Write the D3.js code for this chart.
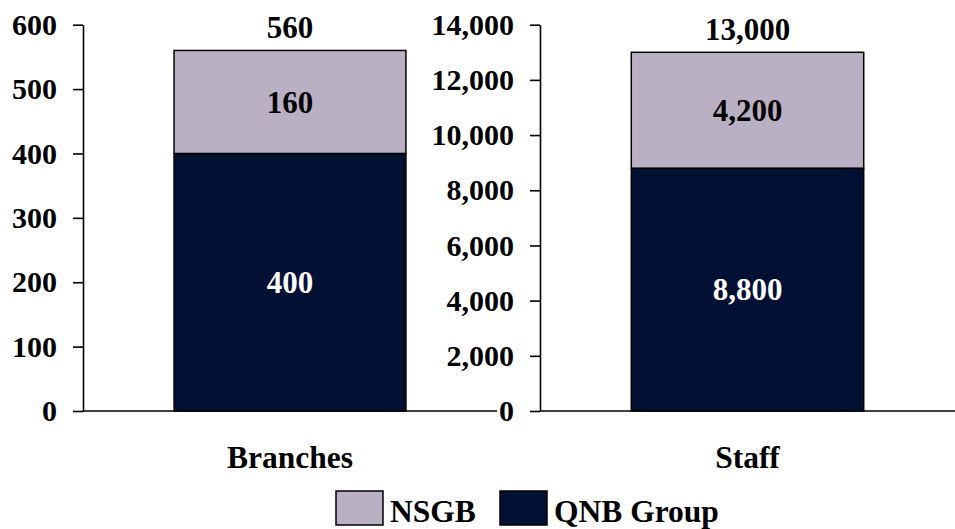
<!DOCTYPE html>
<html>
<head>
<meta charset="utf-8">
<script src="https://cdn.jsdelivr.net/npm/d3@7"></script>
<style>
  html, body { margin: 0; padding: 0; background: #fff; }
  svg { display: block; }
  text { font-family: "Liberation Serif", "Times New Roman", serif; font-weight: bold; }
</style>
</head>
<body>
<svg id="chart" width="955" height="529"></svg>
<script>
// ---- data ----
const categories = ["Branches", "Staff"];
const seriesNames = ["NSGB", "QNB Group"];
const qnbValues = [400, 8800];
const nsgbValues = [160, 4200];
const totals = [560, 13000];
const axisMax = [600, 14000];
const axisStep = [100, 2000];

const colors = { "NSGB": "#B9B0C3", "QNB Group": "#021034" };
const labelColors = { "NSGB": "#000", "QNB Group": "#fff" };

const svg = d3.select("#chart");
const fmt = d3.format(",");

const panels = [
  { x0: 83, x1: 497 },
  { x0: 540, x1: 955 }
];
const yTop = 24.7, yBottom = 411;

categories.forEach((cat, i) => {
  const p = panels[i];
  const y = d3.scaleLinear().domain([0, axisMax[i]]).range([yBottom, yTop]);
  const x = d3.scaleBand().domain([cat]).range([p.x0, p.x1]).padding(0.282);

  const ticks = d3.range(0, axisMax[i] + axisStep[i] / 2, axisStep[i]);
  const yAxis = d3.axisLeft(y).tickValues(ticks).tickFormat(fmt)
    .tickSizeInner(10).tickSizeOuter(0).tickPadding(16);
  const g = svg.append("g").attr("transform", `translate(${p.x0},0)`).call(yAxis);
  g.select(".domain").attr("stroke", "#000").attr("stroke-width", 1.6);
  g.selectAll(".tick line").attr("stroke", "#000").attr("stroke-width", 1.6);
  g.selectAll(".tick text").attr("fill", "#000")
    .style("font-size", "30px").style("font-family", "Liberation Serif").style("font-weight", "bold");

  // stacked segments
  const stack = [
    { name: "QNB Group", y0: 0, y1: qnbValues[i], v: qnbValues[i] },
    { name: "NSGB", y0: qnbValues[i], y1: qnbValues[i] + nsgbValues[i], v: nsgbValues[i] }
  ];
  svg.append("g").selectAll("rect").data(stack).join("rect")
    .attr("x", x(cat)).attr("width", x.bandwidth())
    .attr("y", d => y(d.y1)).attr("height", d => y(d.y0) - y(d.y1))
    .attr("fill", d => colors[d.name]).attr("stroke", "#000").attr("stroke-width", 1.5);

  svg.append("g").selectAll("text").data(stack).join("text")
    .attr("x", x(cat) + x.bandwidth() / 2)
    .attr("y", d => (y(d.y0) + y(d.y1)) / 2)
    .attr("dy", "0.35em")
    .attr("text-anchor", "middle")
    .attr("fill", d => labelColors[d.name])
    .style("font-size", "31px")
    .text(d => fmt(d.v));

  // total
  svg.append("text")
    .attr("x", x(cat) + x.bandwidth() / 2)
    .attr("y", y(totals[i]) - 12)
    .attr("text-anchor", "middle").attr("fill", "#000")
    .style("font-size", "31px")
    .text(fmt(totals[i]));

  // baseline
  svg.append("line")
    .attr("x1", p.x0).attr("x2", p.x1)
    .attr("y1", y(0)).attr("y2", y(0))
    .attr("stroke", "#000").attr("stroke-width", 1.6);

  // category label
  svg.append("text")
    .attr("x", x(cat) + x.bandwidth() / 2)
    .attr("y", 468)
    .attr("text-anchor", "middle").attr("fill", "#000")
    .style("font-size", "31.5px")
    .text(cat);
});

// legend
const legendX = [336, 500];
const lg = svg.append("g");
seriesNames.forEach((s, i) => {
  lg.append("rect").attr("x", legendX[i]).attr("y", 491).attr("width", 47).attr("height", 34)
    .attr("fill", colors[s]).attr("stroke", "#000").attr("stroke-width", 1.5);
  lg.append("text").attr("x", legendX[i] + 54).attr("y", 521.5)
    .attr("fill", "#000").style("font-size", "31.5px").text(s);
});
</script>
</body>
</html>
